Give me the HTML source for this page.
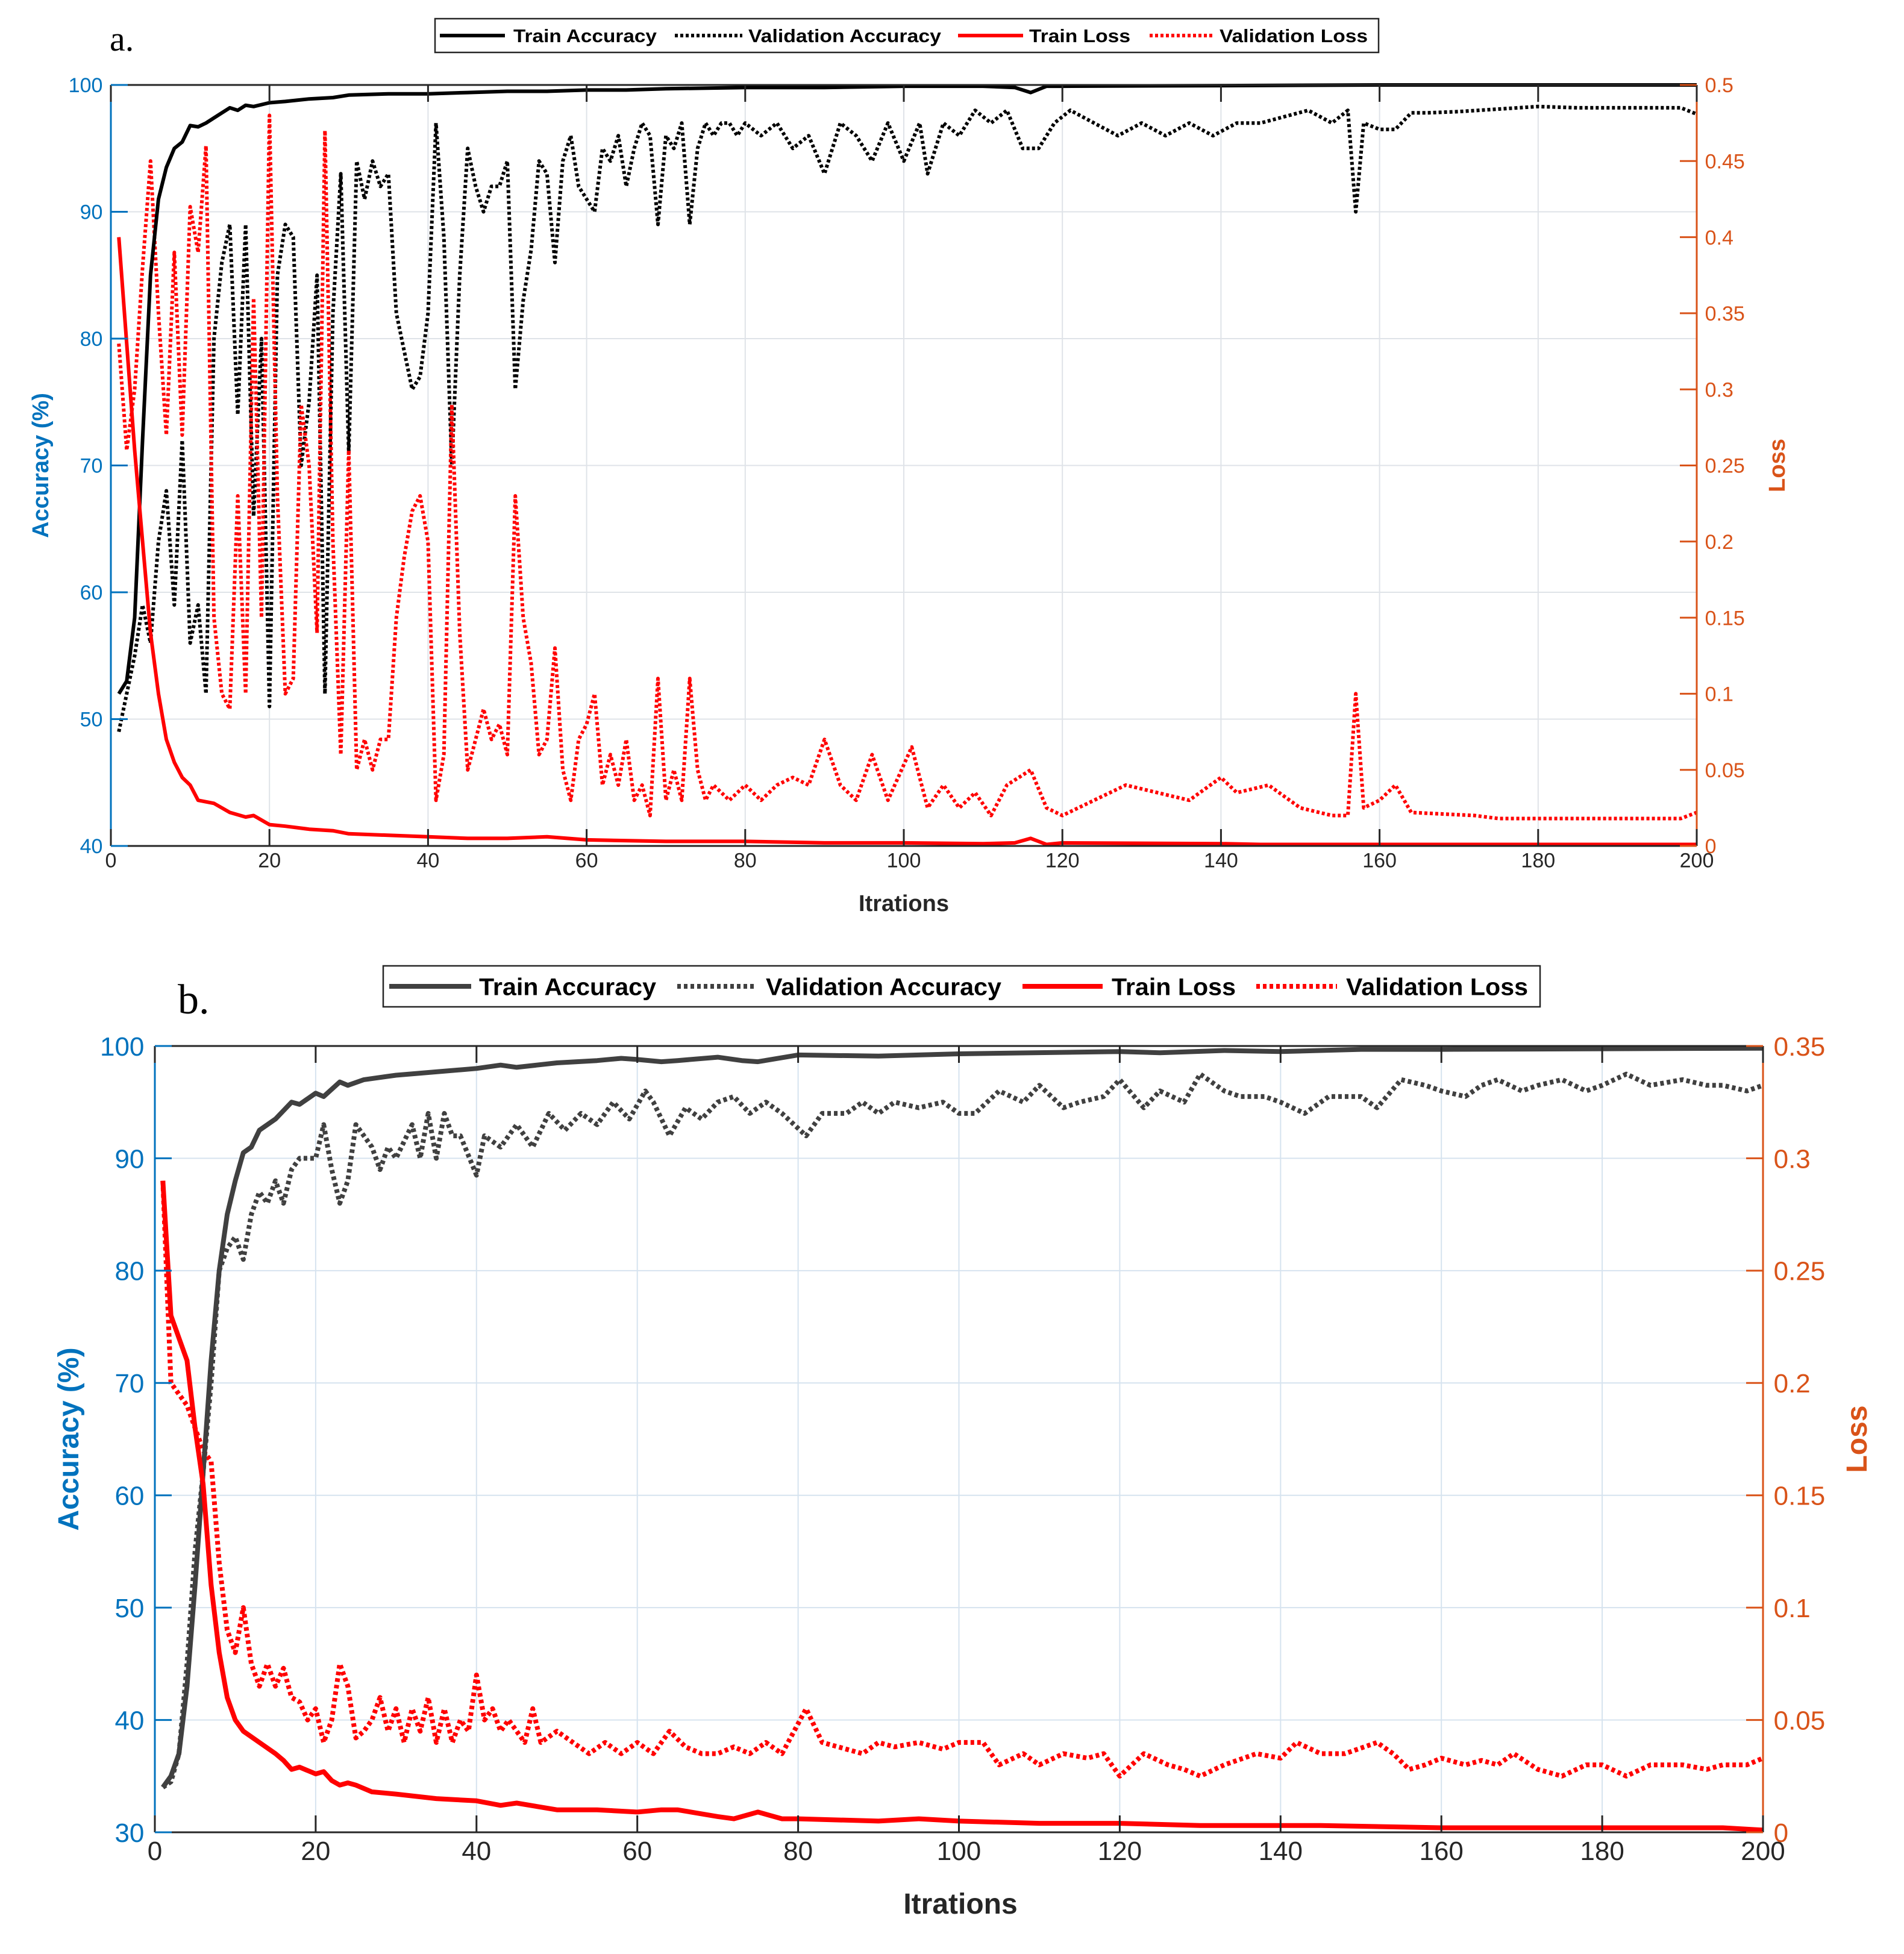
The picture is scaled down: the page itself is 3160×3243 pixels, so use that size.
<!DOCTYPE html>
<html><head><meta charset="utf-8">
<style>
html,body{margin:0;padding:0;background:#fff;}
svg{display:block;}
text{font-family:"Liberation Sans",Arial,sans-serif;}
</style></head>
<body>
<svg id="fig" width="3160" height="3243" viewBox="0 0 3160 3243" xmlns="http://www.w3.org/2000/svg">
<rect x="0" y="0" width="3160" height="3243" fill="#fff"/>
<g id="chartA"></g>
<g id="chartB"></g>
</svg>
<script>
// ---------- Chart A data ----------
const xTicks = [0,20,40,60,80,100,120,140,160,180,200];
const aAccTicks = [40,50,60,70,80,90,100];
const aLossTicks = [0,0.05,0.1,0.15,0.2,0.25,0.3,0.35,0.4,0.45,0.5];
const aLossTickLabels = ["0","0.05","0.1","0.15","0.2","0.25","0.3","0.35","0.4","0.45","0.5"];

const aTrainAccX = [1,2,3,4,5,6,7,8,9,10,11,12,13,14,15,16,17,18,20,22,25,28,30,35,40,45,50,55,60,65,70,80,90,100,110,114,116,118,120,140,160,200];
const aTrainAccY = [52,53,58,72,85,91,93.5,95,95.5,96.8,96.7,97,97.4,97.8,98.2,98,98.4,98.3,98.6,98.7,98.9,99.0,99.2,99.3,99.3,99.4,99.5,99.5,99.6,99.6,99.7,99.8,99.8,99.9,99.9,99.8,99.4,99.9,99.9,99.95,100,100];

const aValAccX = [1,2,3,4,5,6,7,8,9,10,11,12,13,14,15,16,17,18,19,20,21,22,23,24,25,26,27,28,29,30,31,32,33,34,35,36,37,38,39,40,41,42,43,44,45,46,47,48,49,50,51,52,53,54,55,56,57,58,59,60,61,62,63,64,65,66,67,68,69,70,71,72,73,74,75,76,77,78,79,80,82,84,86,88,90,92,94,96,98,100,102,103,105,107,109,111,113,115,117,119,121,124,127,130,133,136,139,142,145,148,151,154,156,157,158,160,162,164,166,170,175,180,185,190,195,198,200];
const aValAccY = [49,52,55,59,56,64,68,59,72,56,59,52,80,86,89,74,89,66,80,51,85,89,88,70,75,85,52,82,93,71,94,91,94,92,93,82,79,76,77,82,97,88,70,85,95,92,90,92,92,94,76,83,87,94,93,86,94,96,92,91,90,95,94,96,92,95,97,96,89,96,95,97,89,95,97,96,97,97,96,97,96,97,95,96,93,97,96,94,97,94,97,93,97,96,98,97,98,95,95,97,98,97,96,97,96,97,96,97,97,97.5,98,97,98,90,97,96.5,96.5,97.8,97.8,97.9,98.1,98.3,98.2,98.2,98.2,98.2,97.7];

const aTrainLossX = [1,2,3,4,5,6,7,8,9,10,11,13,15,17,18,20,22,25,28,30,35,40,45,50,55,60,70,80,90,100,110,114,116,118,120,140,145,160,200];
const aTrainLossY = [0.40,0.33,0.26,0.2,0.14,0.1,0.07,0.055,0.045,0.04,0.03,0.028,0.022,0.019,0.02,0.014,0.013,0.011,0.01,0.008,0.007,0.006,0.005,0.005,0.006,0.004,0.003,0.003,0.002,0.002,0.0015,0.002,0.005,0.001,0.002,0.0015,0.001,0.001,0.001];

const aValLossX = [1,2,3,4,5,6,7,8,9,10,11,12,13,14,15,16,17,18,19,20,21,22,23,24,25,26,27,28,29,30,31,32,33,34,35,36,37,38,39,40,41,42,43,44,45,46,47,48,49,50,51,52,53,54,55,56,57,58,59,60,61,62,63,64,65,66,67,68,69,70,71,72,73,74,75,76,78,80,82,84,86,88,90,92,94,96,98,101,103,105,107,109,111,113,116,118,120,124,128,132,136,140,142,146,150,154,156,157,158,160,162,164,168,172,175,180,190,198,200];
const aValLossY = [0.33,0.26,0.3,0.38,0.45,0.35,0.27,0.39,0.27,0.42,0.39,0.46,0.15,0.1,0.09,0.23,0.1,0.36,0.15,0.48,0.23,0.1,0.11,0.29,0.25,0.14,0.47,0.2,0.06,0.26,0.05,0.07,0.05,0.07,0.07,0.15,0.19,0.22,0.23,0.2,0.03,0.06,0.29,0.14,0.05,0.07,0.09,0.07,0.08,0.06,0.23,0.15,0.12,0.06,0.07,0.13,0.05,0.03,0.07,0.08,0.1,0.04,0.06,0.04,0.07,0.03,0.04,0.02,0.11,0.03,0.05,0.03,0.11,0.05,0.03,0.04,0.03,0.04,0.03,0.04,0.045,0.04,0.07,0.04,0.03,0.06,0.03,0.065,0.025,0.04,0.025,0.035,0.02,0.04,0.05,0.025,0.02,0.03,0.04,0.035,0.03,0.045,0.035,0.04,0.025,0.02,0.02,0.1,0.025,0.03,0.04,0.022,0.021,0.02,0.018,0.018,0.018,0.018,0.022];

// ---------- Chart B data ----------
const bAccTicks = [30,40,50,60,70,80,90,100];
const bLossTicks = [0,0.05,0.1,0.15,0.2,0.25,0.3,0.35];
const bLossTickLabels = ["0","0.05","0.1","0.15","0.2","0.25","0.3","0.35"];

const bTrainAccX = [1,2,3,4,5,6,7,8,9,10,11,12,13,15,17,18,20,21,23,24,26,30,35,40,43,45,50,55,58,60,63,65,70,73,75,80,90,95,100,120,125,133,140,150,160,200];
const bTrainAccY = [34,35,37,43,52,62,72,80,85,88,90.5,91,92.5,93.5,95,94.8,95.8,95.5,96.8,96.5,97,97.4,97.7,98,98.3,98.1,98.5,98.7,98.9,98.8,98.6,98.7,99,98.7,98.6,99.2,99.1,99.2,99.3,99.5,99.4,99.6,99.5,99.7,99.7,99.8];

const bValAccX = [1,2,3,4,5,6,7,8,9,10,11,12,13,14,15,16,17,18,19,20,21,22,23,24,25,26,27,28,29,30,32,33,34,35,36,37,38,40,41,43,45,47,49,51,53,55,57,59,61,62,64,66,68,70,72,74,76,78,81,83,86,88,90,92,95,98,100,102,105,108,110,113,115,118,120,123,125,128,130,133,135,138,140,143,146,150,152,155,158,160,163,165,167,170,172,175,178,180,183,186,190,193,195,198,200];
const bValAccY = [34,34.5,37,45,55,62,70,80,82,83,81,85,87,86,88,86,89,90,90,90,93,89,86,88,93,92,91,89,91,90,93,90,94,90,94,92,92,88.5,92,91,93,91,94,92.5,94,93,95,93.5,96,95,92,94.5,93.5,95,95.5,94,95,94,92,94,94,95,94,95,94.5,95,94,94,96,95,96.5,94.5,95,95.5,97,94.5,96,95,97.5,96,95.5,95.5,95,94,95.5,95.5,94.5,97,96.5,96,95.5,96.5,97,96,96.5,97,96,96.5,97.5,96.5,97,96.5,96.5,96,96.5];

const bTrainLossX = [1,2,3,4,5,6,7,8,9,10,11,13,15,16,17,18,20,21,22,23,24,25,27,30,35,40,43,45,50,55,60,63,65,70,72,75,78,80,90,95,100,110,120,130,140,145,160,180,195,200];
const bTrainLossY = [0.29,0.23,0.22,0.21,0.18,0.155,0.11,0.08,0.06,0.05,0.045,0.04,0.035,0.032,0.028,0.029,0.026,0.027,0.023,0.021,0.022,0.021,0.018,0.017,0.015,0.014,0.012,0.013,0.01,0.01,0.009,0.01,0.01,0.007,0.006,0.009,0.006,0.006,0.005,0.006,0.005,0.004,0.004,0.003,0.003,0.003,0.002,0.002,0.002,0.001];

const bValLossX = [1,2,3,4,5,6,7,8,9,10,11,12,13,14,15,16,17,18,19,20,21,22,23,24,25,26,27,28,29,30,31,32,33,34,35,36,37,38,39,40,41,42,43,44,45,46,47,48,50,52,54,56,58,60,62,64,66,68,70,72,74,76,78,81,83,85,88,90,92,95,98,100,103,105,108,110,113,116,118,120,123,126,128,130,133,137,140,142,145,148,152,154,156,158,160,163,165,167,169,172,175,178,180,183,186,190,193,195,198,200];
const bValLossY = [0.29,0.2,0.195,0.19,0.18,0.17,0.165,0.12,0.09,0.08,0.1,0.075,0.065,0.075,0.065,0.073,0.06,0.058,0.05,0.055,0.04,0.05,0.075,0.065,0.042,0.045,0.05,0.06,0.045,0.055,0.04,0.055,0.045,0.06,0.04,0.055,0.04,0.05,0.045,0.07,0.05,0.055,0.045,0.05,0.045,0.04,0.055,0.04,0.045,0.04,0.035,0.04,0.035,0.04,0.035,0.045,0.038,0.035,0.035,0.038,0.035,0.04,0.035,0.055,0.04,0.038,0.035,0.04,0.038,0.04,0.037,0.04,0.04,0.03,0.035,0.03,0.035,0.033,0.035,0.025,0.035,0.03,0.028,0.025,0.03,0.035,0.033,0.04,0.035,0.035,0.04,0.035,0.028,0.03,0.033,0.03,0.032,0.03,0.035,0.028,0.025,0.03,0.03,0.025,0.03,0.03,0.028,0.03,0.03,0.033];

const NS = "http://www.w3.org/2000/svg";
function mk(parent, tag, attrs, txt){
  const e = document.createElementNS(NS, tag);
  for (const k in attrs) e.setAttribute(k, attrs[k]);
  if (txt !== undefined) e.textContent = txt;
  parent.appendChild(e);
  return e;
}
function pathD(xs, ys, sx, sy){
  let d = "";
  for (let i = 0; i < xs.length; i++) d += (i ? "L" : "M") + sx(xs[i]).toFixed(1) + "," + sy(ys[i]).toFixed(1);
  return d;
}

function drawChart(g, cfg){
  const {L,R,T,B,accMin,accMax,lossMax,accTicks,lossTicks,lossLabels,fs,tick,gridCol,trainAccCol,lw} = cfg;
  const sx = v => L + (v/200)*(R-L);
  const sa = v => B - (v-accMin)/(accMax-accMin)*(B-T);
  const sl = v => B - (v/lossMax)*(B-T);
  const grid = mk(g,"g",{});
  
  
  xTicks.forEach(t => { if(t>0 && t<200) mk(grid,"line",{x1:sx(t),x2:sx(t),y1:T,y2:B,stroke:gridCol,"stroke-width":2}); });
  accTicks.forEach(t => { if(t>accMin && t<accMax) mk(grid,"line",{x1:L,x2:R,y1:sa(t),y2:sa(t),stroke:gridCol,"stroke-width":2}); });
  const series = [
    {n:'validation-accuracy-line', xs:cfg.vaX, ys:cfg.vaY, s:sa, c:trainAccCol, dash:cfg.dash},
    {n:'validation-loss-line', xs:cfg.vlX, ys:cfg.vlY, s:sl, c:'#ff0000', dash:cfg.dash},
    {n:'train-accuracy-line', xs:cfg.taX, ys:cfg.taY, s:sa, c:trainAccCol, dash:null},
    {n:'train-loss-line', xs:cfg.tlX, ys:cfg.tlY, s:sl, c:'#ff0000', dash:null}
  ];
  series.forEach(se => {
    const a = {d:pathD(se.xs, se.ys, sx, se.s), fill:"none", stroke:se.c, "stroke-width":lw, "stroke-linejoin":"round"};
    if (se.dash) a["stroke-dasharray"] = se.dash;
    const p = mk(g,"path",a);
    
    
  });
  const ax = mk(g,"g",{});
  
  
  mk(ax,"line",{x1:L,x2:R,y1:T,y2:T,stroke:"#262626","stroke-width":3});
  mk(ax,"line",{x1:L,x2:R,y1:B,y2:B,stroke:"#262626","stroke-width":3});
  mk(ax,"line",{x1:L,x2:L,y1:T,y2:B,stroke:"#0072bd","stroke-width":3});
  mk(ax,"line",{x1:R,x2:R,y1:T,y2:B,stroke:"#d95319","stroke-width":3});
  xTicks.forEach(t => {
    mk(ax,"line",{x1:sx(t),x2:sx(t),y1:B,y2:B-tick,stroke:"#262626","stroke-width":3});
    mk(ax,"line",{x1:sx(t),x2:sx(t),y1:T,y2:T+tick,stroke:"#262626","stroke-width":3});
    const tl = mk(ax,"text",{x:sx(t),y:B+fs*1.05,"font-size":fs,fill:"#262626","text-anchor":"middle"}, String(t));
    
    
  });
  accTicks.forEach(t => {
    mk(ax,"line",{x1:L,x2:L+tick,y1:sa(t),y2:sa(t),stroke:"#0072bd","stroke-width":3});
    const tl = mk(ax,"text",{x:L-fs*0.4,y:sa(t)+fs*0.36,"font-size":fs,fill:"#0072bd","text-anchor":"end"}, String(t));
    
    
  });
  lossTicks.forEach((t,i) => {
    mk(ax,"line",{x1:R-tick,x2:R,y1:sl(t),y2:sl(t),stroke:"#d95319","stroke-width":3});
    const tl = mk(ax,"text",{x:R+fs*0.4,y:sl(t)+fs*0.36,"font-size":fs,fill:"#d95319","text-anchor":"start"}, lossLabels[i]);
    
    
  });
  const xl = mk(g,"text",{x:cfg.xlX,y:cfg.xlY,"font-size":cfg.lfs,"font-weight":"bold",fill:"#262626","text-anchor":"middle"},"Itrations");
  
  
  const yl = mk(g,"text",{x:0,y:0,"font-size":cfg.lfs,"font-weight":"bold",fill:"#0072bd","text-anchor":"middle",transform:`translate(${cfg.ylX},${(T+B)/2}) rotate(-90)`},"Accuracy (%)");
  
  
  const yr = mk(g,"text",{x:0,y:0,"font-size":cfg.lfs,"font-weight":"bold",fill:"#d95319","text-anchor":"middle",transform:`translate(${cfg.yrX},${(T+B)/2}) rotate(-90)`},"Loss");
  
  
  const pl = mk(g,"text",{x:cfg.plX,y:cfg.plY,"font-size":cfg.plFs,fill:"#000",style:"font-family:'Liberation Serif',serif"},cfg.pl);
  
  
  const lg = mk(g,"g",{});
  
  
  const Lg = cfg.legend;
  mk(lg,"rect",{x:Lg.x,y:Lg.y,width:Lg.w,height:Lg.h,fill:"#fff",stroke:"#262626","stroke-width":2.5});
  const cy = Lg.y + Lg.h/2;
  const names = ["Train Accuracy","Validation Accuracy","Train Loss","Validation Loss"];
  const cols = [trainAccCol,trainAccCol,"#ff0000","#ff0000"];
  const dashed = [false,true,false,true];
  names.forEach((nm,i) => {
    const e = Lg.e[i];
    const ent = mk(lg,"g",{});
    
    
    const a = {x1:e[0],x2:e[1],y1:cy,y2:cy,stroke:cols[i],"stroke-width":lw};
    if (dashed[i]) a["stroke-dasharray"] = cfg.dash;
    mk(ent,"line",a);
    mk(ent,"text",{x:e[2],y:cy+Lg.fs*0.36,"font-size":Lg.fs,"font-weight":"bold",fill:"#000",textLength:e[3],lengthAdjust:"spacingAndGlyphs"},nm);
  });
}

drawChart(document.getElementById('chartA'), {
  L:184,R:2816,T:141,B:1404,accMin:40,accMax:100,lossMax:0.5,
  accTicks:aAccTicks,lossTicks:aLossTicks,lossLabels:aLossTickLabels,
  fs:34,tick:28,gridCol:"#dfe3e8",trainAccCol:"#000000",lw:6,dash:"5 4",
  taX:aTrainAccX,taY:aTrainAccY,vaX:aValAccX,vaY:aValAccY,tlX:aTrainLossX,tlY:aTrainLossY,vlX:aValLossX,vlY:aValLossY,
  xlX:1500,xlY:1512,ylX:80,yrX:2962,lfs:38,
  pl:"a.",plX:182,plY:84,plFs:58,
  legend:{x:722,y:31,w:1566,h:56,fs:31,e:[[730,838,852,238],[1120,1232,1242,320],[1590,1698,1708,168],[1908,2014,2024,246]]}
});
drawChart(document.getElementById('chartB'), {
  L:257,R:2926,T:1736,B:3041,accMin:30,accMax:100,lossMax:0.35,
  accTicks:bAccTicks,lossTicks:bLossTicks,lossLabels:bLossTickLabels,
  fs:44,tick:28,gridCol:"#d6e3ef",trainAccCol:"#404040",lw:8,dash:"6 5",
  taX:bTrainAccX,taY:bTrainAccY,vaX:bValAccX,vaY:bValAccY,tlX:bTrainLossX,tlY:bTrainLossY,vlX:bValLossX,vlY:bValLossY,
  xlX:1594,xlY:3176,ylX:130,yrX:3098,lfs:48,
  pl:"b.",plX:295,plY:1682,plFs:70,
  legend:{x:636,y:1603,w:1920,h:68,fs:40,e:[[646,782,795,294],[1124,1256,1271,391],[1697,1830,1845,206],[2085,2219,2234,302]]}
});
</script>
</body></html>
